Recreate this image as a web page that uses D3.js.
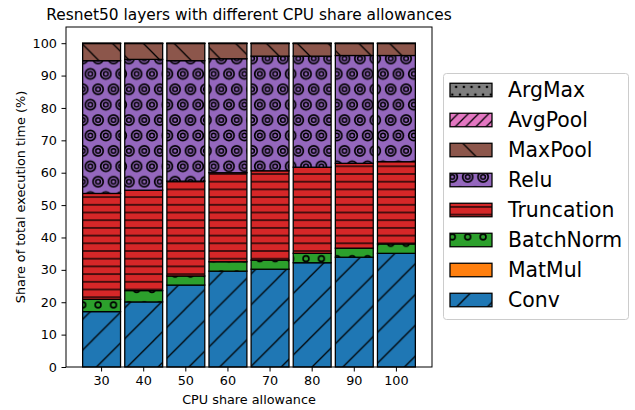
<!DOCTYPE html>
<html>
<head>
<meta charset="utf-8">
<script src="https://cdn.jsdelivr.net/npm/d3@7"></script>
<style>
  html, body { margin: 0; padding: 0; background: #ffffff; }
  svg { display: block; font-family: "DejaVu Sans", sans-serif; }
</style>
</head>
<body>
<svg id="chart" width="635" height="410"></svg>
<script>
// CPU share allowance categories (x axis)
const categories = ["30", "40", "50", "60", "70", "80", "90", "100"];

// Share of total execution time (%) per layer type, one entry per category
const conv       = [17.1, 20.1, 25.3, 29.6, 30.2, 32.2, 33.9, 35.1];
const matMul     = [0, 0, 0, 0, 0, 0, 0, 0];
const batchNorm  = [3.8, 3.5, 2.8, 2.9, 2.8, 2.9, 2.8, 2.9];
const truncation = [32.7, 31.0, 29.3, 27.5, 27.6, 26.6, 26.2, 25.4];
const relu       = [41.0, 40.4, 37.2, 35.2, 35.4, 34.3, 33.3, 32.8];
const maxPool    = [5.3, 4.9, 5.3, 4.7, 3.9, 3.9, 3.7, 3.7];
const avgPool    = [0.05, 0.05, 0.05, 0.05, 0.05, 0.05, 0.05, 0.05];
const argMax     = [0.05, 0.05, 0.05, 0.05, 0.05, 0.05, 0.05, 0.05];

const yTicks = [0, 10, 20, 30, 40, 50, 60, 70, 80, 90, 100];

// Stacking order, bottom to top
const seriesNames  = ["Conv", "MatMul", "BatchNorm", "Truncation", "Relu", "MaxPool", "AvgPool", "ArgMax"];
const seriesValues = [conv, matMul, batchNorm, truncation, relu, maxPool, avgPool, argMax];
const seriesColors = ["#1f77b4", "#ff7f0e", "#2ca02c", "#d62728", "#9467bd", "#8c564b", "#e377c2", "#7f7f7f"];

const rows = categories.map((c, i) => {
  const r = { category: c };
  seriesNames.forEach((n, k) => { r[n] = seriesValues[k][i]; });
  return r;
});

const svg = d3.select("#chart");
const margin = { left: 66, right: 432, top: 27, bottom: 367 };

const x = d3.scaleBand()
  .domain(categories)
  .range([margin.left, margin.right])
  .paddingInner(0.1)
  .paddingOuter(0.395);

const y = d3.scaleLinear().domain([0, 105]).range([margin.bottom, margin.top]);

const stacked = d3.stack().keys(seriesNames)(rows);

// ---- hatch patterns ----
const defs = svg.append("defs");
const T = 92.4;            // hatch tile size
const s = T / 6;           // lattice step
const hw = 1.28;           // hatch line width

function pattern(id, color, w, h, px, py) {
  const p = defs.append("pattern")
    .attr("id", id)
    .attr("patternUnits", "userSpaceOnUse")
    .attr("width", w).attr("height", h)
    .attr("x", px).attr("y", py);
  p.append("rect").attr("width", w).attr("height", h).attr("fill", color);
  return p;
}
function diagUp(p, d) {   // "/" lines
  p.append("path")
    .attr("d", `M0,${d} L${d},0 M${-d/2},${d/2} L${d/2},${-d/2} M${d/2},${3*d/2} L${3*d/2},${d/2}`)
    .attr("stroke", "#000").attr("stroke-width", hw).attr("fill", "none");
}
function diagDown(p, d) { // "\" lines
  p.append("path")
    .attr("d", `M0,0 L${d},${d} M${-d/2},${d/2} L${d/2},${3*d/2} M${d/2},${-d/2} L${3*d/2},${d/2}`)
    .attr("stroke", "#000").attr("stroke-width", hw).attr("fill", "none");
}
function lattice(p, w, h, fn) {
  [[0, 0], [w, 0], [0, h], [w, h], [w / 2, h / 2]].forEach(([cx, cy]) => fn(p, cx, cy));
}

const fills = {};
seriesNames.forEach((n, k) => { fills[n] = seriesColors[k]; });

// Conv: "/"
{
  const d = 2 * T / 6;
  const p = pattern("h-Conv", fills.Conv, d, d, 0, 1.5);
  diagUp(p, d);
  fills.Conv = "url(#h-Conv)";
}
// BatchNorm: small rings
{
  const p = pattern("h-BatchNorm", fills.BatchNorm, s, 2 * s, 5.7, 27.7);
  lattice(p, s, 2 * s, (g, cx, cy) => g.append("circle").attr("cx", cx).attr("cy", cy)
    .attr("r", 2.9).attr("fill", "none").attr("stroke", "#000").attr("stroke-width", 1.6));
  fills.BatchNorm = "url(#h-BatchNorm)";
}
// Truncation: horizontal lines
{
  const d = T / 12;
  const p = pattern("h-Truncation", fills.Truncation, 10, d, 0, 0.75);
  p.append("line").attr("x1", 0).attr("x2", 10).attr("y1", d / 2).attr("y2", d / 2)
    .attr("stroke", "#000").attr("stroke-width", hw);
  fills.Truncation = "url(#h-Truncation)";
}
// Relu: concentric rings
{
  const p = pattern("h-Relu", fills.Relu, s, 2 * s, 5.7, 27.7);
  lattice(p, s, 2 * s, (g, cx, cy) => {
    g.append("circle").attr("cx", cx).attr("cy", cy).attr("r", 5.1)
      .attr("fill", "none").attr("stroke", "#000").attr("stroke-width", 1.7);
    g.append("circle").attr("cx", cx).attr("cy", cy).attr("r", 2.3)
      .attr("fill", "none").attr("stroke", "#000").attr("stroke-width", 1.5);
  });
  fills.Relu = "url(#h-Relu)";
}
// MaxPool: "\"
{
  const d = 2 * T / 6;
  const p = pattern("h-MaxPool", fills.MaxPool, d, d, 0, 23.3);
  diagDown(p, d);
  fills.MaxPool = "url(#h-MaxPool)";
}
// AvgPool: "///"
{
  const d = 2 * T / 18;
  const p = pattern("h-AvgPool", fills.AvgPool, d, d, 0, 0);
  diagUp(p, d);
  fills.AvgPool = "url(#h-AvgPool)";
}
// ArgMax: small dots
{
  const d = T / 12;
  const p = pattern("h-ArgMax", fills.ArgMax, d, 2 * d, 5.7, 4.6);
  lattice(p, d, 2 * d, (g, cx, cy) => g.append("circle").attr("cx", cx).attr("cy", cy)
    .attr("r", 1.3).attr("fill", "#000"));
  fills.ArgMax = "url(#h-ArgMax)";
}

// ---- bars ----
svg.append("g").selectAll("g")
  .data(stacked)
  .join("g")
  .attr("fill", d => fills[d.key])
  .selectAll("rect")
  .data(d => d)
  .join("rect")
  .attr("x", d => x(d.data.category))
  .attr("width", x.bandwidth())
  .attr("y", d => y(d[1]))
  .attr("height", d => y(d[0]) - y(d[1]))
  .attr("stroke", "#000")
  .attr("stroke-width", 1.28);

// ---- axes ----
const yAxis = svg.append("g")
  .attr("transform", `translate(${margin.left},0)`)
  .call(d3.axisLeft(y).tickValues(yTicks).tickSize(4.5).tickPadding(4.5));
const xAxis = svg.append("g")
  .attr("transform", `translate(0,${margin.bottom})`)
  .call(d3.axisBottom(x).tickSize(4.5).tickPadding(4.5));
[yAxis, xAxis].forEach(a => {
  a.select(".domain").remove();
  a.selectAll("text").attr("font-size", 12.8).attr("fill", "#000")
    .attr("font-family", "DejaVu Sans, sans-serif");
  a.selectAll("line").attr("stroke", "#000").attr("stroke-width", 1);
});

// frame
svg.append("rect")
  .attr("x", margin.left).attr("y", margin.top)
  .attr("width", margin.right - margin.left)
  .attr("height", margin.bottom - margin.top)
  .attr("fill", "none").attr("stroke", "#000").attr("stroke-width", 1);

// ---- labels ----
svg.append("text")
  .attr("x", (margin.left + margin.right) / 2).attr("y", 19.5)
  .attr("text-anchor", "middle").attr("font-size", 15.4)
  .text("Resnet50 layers with different CPU share allowances");

svg.append("text")
  .attr("x", (margin.left + margin.right) / 2).attr("y", 404)
  .attr("text-anchor", "middle").attr("font-size", 12.8)
  .text("CPU share allowance");

svg.append("text")
  .attr("transform", `translate(24.5,${(margin.top + margin.bottom) / 2}) rotate(-90)`)
  .attr("text-anchor", "middle").attr("font-size", 12.8)
  .text("Share of total execution time (%)");

// ---- legend ----
const legend = svg.append("g");
legend.append("rect")
  .attr("x", 443.5).attr("y", 73.5).attr("width", 185).attr("height", 246)
  .attr("rx", 3).attr("fill", "#fff").attr("fill-opacity", 0.8)
  .attr("stroke", "#cccccc").attr("stroke-width", 1);

const legendOrder = seriesNames.slice().reverse();
const item = legend.selectAll("g.item")
  .data(legendOrder)
  .join("g")
  .attr("class", "item")
  .attr("transform", (d, i) => `translate(0,${90 + i * 30})`);
item.append("rect")
  .attr("x", 450).attr("y", -6.75).attr("width", 42).attr("height", 13.5)
  .attr("fill", d => fills[d]).attr("stroke", "#000").attr("stroke-width", 1.28);
item.append("text")
  .attr("x", 508).attr("y", 7.3)
  .attr("font-size", 20.4)
  .text(d => d);
</script>
</body>
</html>
